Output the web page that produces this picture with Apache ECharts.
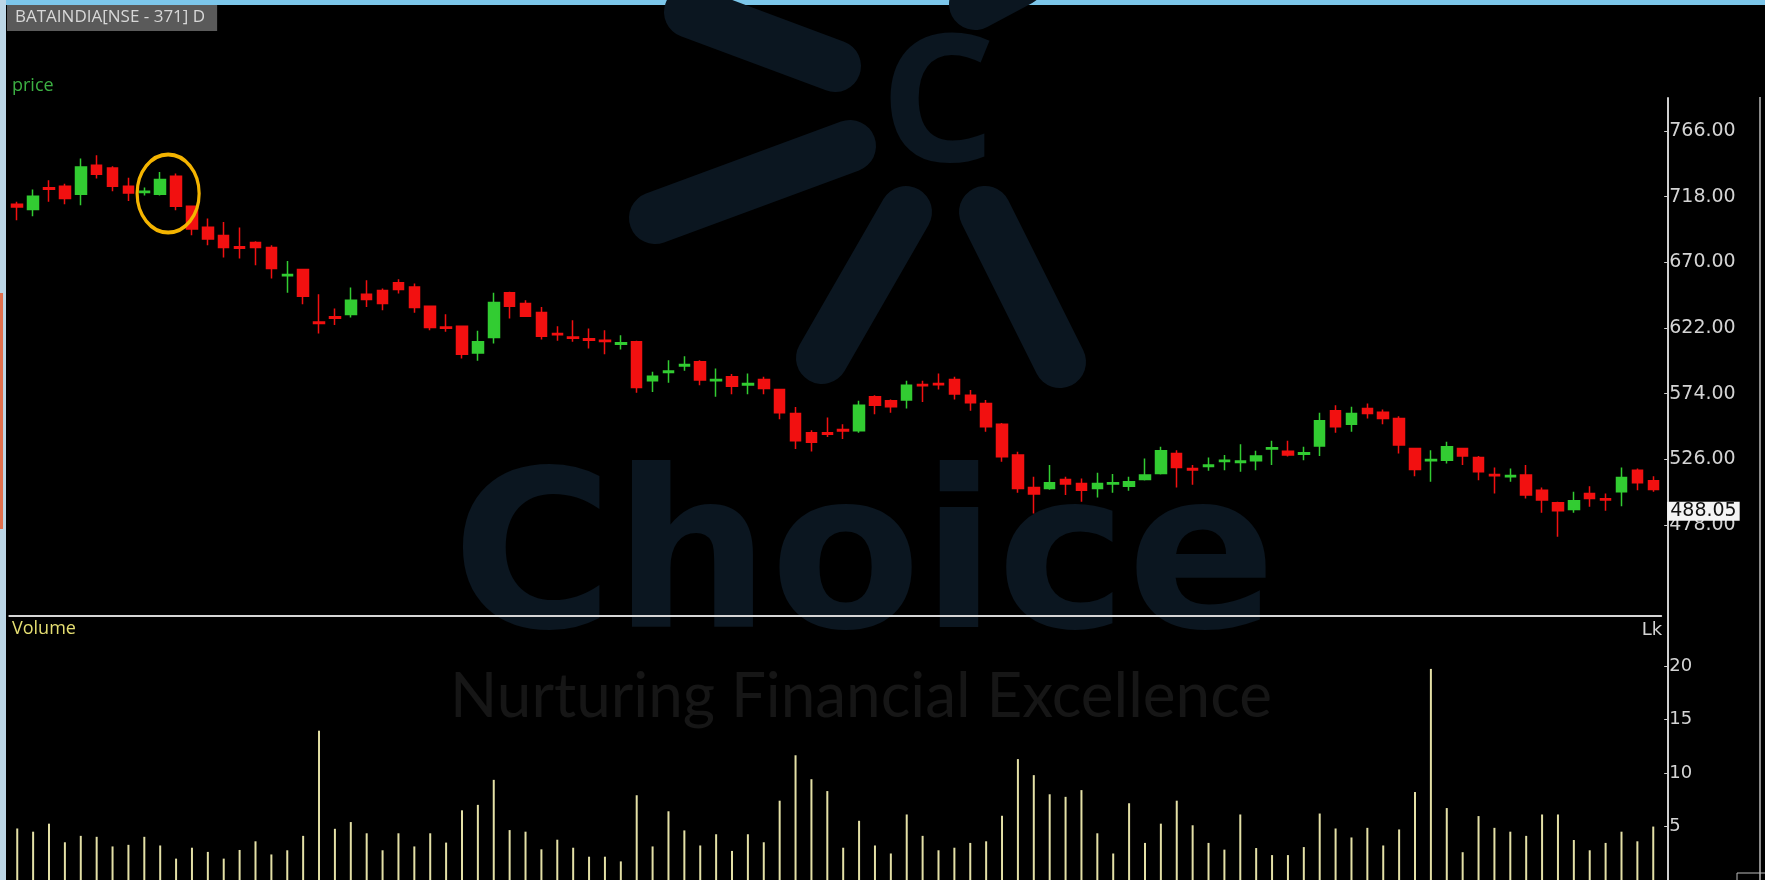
<!DOCTYPE html>
<html>
<head>
<meta charset="utf-8">
<title>BATAINDIA</title>
<script src="https://cdn.jsdelivr.net/npm/echarts@6/dist/echarts.min.js"></script>
<style>
  html, body { margin: 0; padding: 0; background: #000; }
  #chart { width: 1765px; height: 880px; }
</style>
</head>
<body>
<div id="chart"></div>
<script>
// daily candles (oldest first)
const open = [712.4, 708.6, 724.5, 725.6, 719.8, 740.9, 739.0, 725.6, 721.0, 719.8,
  732.9, 711.0, 695.7, 689.6, 681.3, 684.4, 680.8, 660.1, 664.7, 626.3,
  630.2, 631.8, 646.7, 649.4, 655.0, 652.0, 637.9, 622.8, 623.3, 603.8,
  615.0, 647.7, 639.9, 633.3, 618.0, 615.5, 614.1, 613.1, 610.2, 611.9,
  583.4, 589.5, 594.3, 597.3, 583.4, 586.3, 580.4, 584.4, 577.1, 559.5,
  545.4, 545.4, 547.8, 546.9, 571.7, 568.8, 569.3, 580.7, 581.5, 584.4,
  572.9, 566.8, 551.7, 529.1, 505.5, 504.7, 511.3, 508.4, 504.7, 507.9,
  506.4, 511.3, 515.7, 530.3, 519.3, 520.8, 524.4, 523.7, 524.9, 533.5,
  532.0, 529.8, 535.7, 561.5, 551.7, 563.2, 560.5, 555.9, 534.0, 524.9,
  525.4, 534.0, 527.4, 515.0, 513.2, 514.5, 503.5, 494.3, 489.4, 501.1,
  497.2, 502.3, 518.1, 510.3];
const close = [710.5, 718.3, 723.4, 716.6, 739.7, 734.4, 725.6, 720.7, 722.0, 730.5,
  711.0, 694.4, 687.1, 680.8, 680.3, 680.8, 665.5, 661.1, 645.2, 625.3,
  629.2, 642.3, 642.8, 639.9, 650.1, 637.0, 622.3, 621.8, 602.9, 611.9,
  640.6, 637.9, 630.6, 616.0, 617.0, 614.5, 613.1, 612.1, 611.2, 578.5,
  586.8, 590.5, 595.3, 583.9, 584.4, 579.5, 581.4, 577.8, 560.0, 539.6,
  538.5, 544.4, 546.8, 565.6, 565.6, 564.4, 580.2, 579.7, 580.5, 573.7,
  567.3, 549.8, 527.9, 504.7, 500.6, 508.9, 507.9, 503.5, 508.4, 508.9,
  509.6, 514.5, 532.2, 520.1, 518.3, 521.8, 525.4, 524.7, 528.4, 534.5,
  529.1, 530.8, 554.2, 549.8, 559.5, 559.5, 555.9, 536.4, 518.6, 525.9,
  535.2, 528.4, 516.9, 514.0, 514.2, 499.9, 496.2, 488.4, 495.7, 497.4,
  496.2, 512.8, 508.9, 504.0];
const low = [700.8, 703.7, 714.2, 712.5, 711.7, 731.2, 722.0, 714.9, 718.8, 718.8,
  708.1, 689.8, 682.5, 673.5, 672.8, 667.9, 658.1, 647.7, 639.4, 618.0,
  624.1, 629.7, 637.4, 635.0, 647.2, 633.1, 620.4, 619.2, 599.7, 598.0,
  610.7, 628.9, 630.0, 613.6, 612.6, 611.9, 607.0, 602.9, 606.3, 574.6,
  575.3, 581.9, 590.7, 580.2, 571.7, 573.6, 573.6, 573.6, 555.3, 533.6,
  531.8, 542.3, 540.9, 545.5, 559.0, 560.0, 563.2, 568.0, 577.0, 569.8,
  561.5, 546.1, 524.2, 501.6, 486.5, 503.8, 499.9, 495.0, 498.2, 501.6,
  503.0, 510.5, 515.0, 505.5, 507.5, 517.6, 518.1, 516.9, 518.1, 521.8,
  528.0, 525.4, 528.4, 545.4, 546.1, 555.9, 551.7, 530.3, 513.7, 509.6,
  523.0, 521.8, 510.8, 501.1, 509.6, 497.4, 487.0, 469.4, 487.0, 491.3,
  488.4, 491.8, 503.5, 502.3];
const high = [714.2, 723.2, 730.0, 727.5, 745.8, 748.2, 740.2, 731.9, 724.6, 736.1,
  734.9, 711.6, 702.0, 699.5, 695.4, 685.4, 682.5, 671.0, 665.2, 646.7,
  636.2, 651.6, 656.9, 650.8, 657.7, 654.5, 638.5, 632.1, 623.8, 619.9,
  647.7, 648.4, 642.3, 637.4, 623.3, 627.7, 621.6, 620.4, 616.7, 612.6,
  590.0, 598.5, 601.4, 598.5, 592.4, 588.3, 588.7, 586.3, 577.6, 564.2,
  547.3, 556.6, 551.6, 568.8, 572.9, 569.8, 583.4, 583.4, 588.7, 586.3,
  576.6, 569.3, 552.5, 531.5, 513.3, 521.8, 513.3, 512.0, 516.2, 515.2,
  513.3, 526.7, 535.2, 532.7, 521.8, 527.4, 529.1, 537.1, 532.2, 539.6,
  539.6, 535.2, 560.0, 565.6, 564.4, 566.8, 562.4, 557.5, 534.5, 532.7,
  538.8, 534.5, 528.4, 520.1, 519.3, 521.8, 505.5, 495.0, 502.3, 506.4,
  501.1, 520.1, 519.3, 513.7];
// volume in lakh shares
const volume = [4.82, 4.52, 5.27, 3.53, 4.13, 4.04, 3.14, 3.29, 4.04, 3.23,
  2.0, 3.02, 2.63, 2.0, 2.81, 3.62, 2.39, 2.78, 4.13, 13.97,
  4.79, 5.42, 4.37, 2.78, 4.37, 3.14, 4.37, 3.5, 6.52, 7.03,
  9.37, 4.67, 4.52, 2.87, 3.77, 3.02, 2.18, 2.18, 1.74, 7.93,
  3.14, 6.43, 4.64, 3.23, 4.28, 2.72, 4.28, 3.53, 7.42, 11.67,
  9.43, 8.32, 3.02, 5.54, 3.23, 2.48, 6.13, 4.13, 2.78, 3.02,
  3.47, 3.62, 6.01, 11.31, 9.81, 8.02, 7.78, 8.41, 4.37, 2.48,
  7.18, 3.47, 5.27, 7.42, 5.12, 3.47, 2.84, 6.13, 2.99, 2.33,
  2.33, 3.08, 6.22, 4.82, 3.98, 4.88, 3.23, 4.73, 8.23, 19.75,
  6.73, 2.6, 5.98, 4.88, 4.52, 4.13, 6.13, 6.13, 3.74, 2.78,
  3.47, 4.52, 3.62, 5.0];
const priceTicks = [478, 526, 574, 622, 670, 718, 766];
const volumeTicks = [5, 10, 15, 20];
const lastPrice = 488.05;

const days = open.map((_, i) => 'D' + (i + 1));
const candles = open.map((o, i) => [o, close[i], low[i], high[i]]);

const upColor = '#32cc32';
const downColor = '#f21010';
const axisColor = '#cfcfcf';
const markColor = '#0b1620';

const chart = echarts.init(document.getElementById('chart'));

const option = {
  backgroundColor: '#000',
  animation: false,
  title: [
    {
      text: 'BATAINDIA[NSE - 371] D',
      left: 7, top: 5,
      padding: [4, 12, 5, 8],
      backgroundColor: '#5a5a5a',
      textStyle: { color: '#d8d8d8', fontFamily: 'Open Sans', fontSize: 17, fontWeight: 'normal' }
    },
    {
      text: 'price',
      left: 8, top: 77, padding: [0, 4],
      textStyle: { color: '#3cb043', fontFamily: 'Open Sans', fontSize: 18, fontWeight: 'normal' }
    },
    {
      text: 'Volume',
      left: 8, top: 620, padding: [0, 4],
      textStyle: { color: '#e6df72', fontFamily: 'Open Sans', fontSize: 18, fontWeight: 'normal' }
    }
  ],
  grid: [
    { left: 9.3, right: 103.8, top: 98, bottom: 264 },
    { left: 9.3, right: 103.8, top: 616, bottom: -11 }
  ],
  xAxis: [
    {
      type: 'category', data: days, gridIndex: 0, boundaryGap: true,
      axisLine: { show: true, onZero: false, lineStyle: { color: '#d6d6d6', width: 2 } },
      axisTick: { show: false }, axisLabel: { show: false }, splitLine: { show: false }
    },
    {
      type: 'category', data: days, gridIndex: 1, boundaryGap: true, show: false
    }
  ],
  yAxis: [
    {
      type: 'value', gridIndex: 0, position: 'right', offset: 7,
      min: 411.5, max: 790.1, scale: true,
      axisLine: { show: true, lineStyle: { color: axisColor, width: 2 } },
      axisTick: { show: true, inside: true, length: 4, customValues: priceTicks, lineStyle: { color: axisColor } },
      axisLabel: {
        customValues: priceTicks, margin: 1, color: '#d4d4d4',
        fontFamily: 'DejaVu Sans', fontSize: 19,
        formatter: v => v.toFixed(2)
      },
      splitLine: { show: false }
    },
    {
      type: 'value', gridIndex: 1, position: 'right', offset: 7,
      min: 0, max: 24.7,
      name: 'Lk', nameLocation: 'end', nameGap: -14,
      nameTextStyle: { color: '#d4d4d4', fontFamily: 'DejaVu Sans', fontSize: 18, align: 'right', verticalAlign: 'middle', padding: [0, 6, 0, 0] },
      axisLine: { show: true, lineStyle: { color: axisColor, width: 2 } },
      axisTick: { show: true, inside: true, length: 4, customValues: volumeTicks, lineStyle: { color: axisColor } },
      axisLabel: {
        customValues: volumeTicks, margin: 1, color: '#d4d4d4',
        fontFamily: 'DejaVu Sans', fontSize: 18
      },
      splitLine: { show: false }
    }
  ],
  graphic: {
    elements: [
      // window frame
      { type: 'rect', z: 0, shape: { x: 0, y: 0, width: 1765, height: 5 }, style: { fill: '#7cc6ea' } },
      { type: 'rect', z: 0, shape: { x: 0, y: 0, width: 6, height: 880 }, style: { fill: '#bcd6e6' } },
      { type: 'rect', z: 0, shape: { x: 0, y: 293, width: 3, height: 236 }, style: { fill: '#e2704e' } },
      { type: 'line', z: 0, shape: { x1: 1760, y1: 97, x2: 1760, y2: 880 }, style: { stroke: '#8a8a8a', lineWidth: 2 } },
      { type: 'rect', z: 0, shape: { x: 1737, y: 873, width: 30, height: 12 }, style: { fill: null, stroke: '#bbbbbb', lineWidth: 1 } },
      // watermark
      { type: 'line', z: 0, shape: { x1: 690, y1: 12, x2: 835, y2: 66 }, style: { stroke: markColor, lineWidth: 52, lineCap: 'round' } },
      { type: 'line', z: 0, shape: { x1: 975, y1: 4, x2: 1020, y2: -20 }, style: { stroke: markColor, lineWidth: 52, lineCap: 'round' } },
      { type: 'line', z: 0, shape: { x1: 655, y1: 218, x2: 850, y2: 146 }, style: { stroke: markColor, lineWidth: 52, lineCap: 'round' } },
      { type: 'line', z: 0, shape: { x1: 906, y1: 212, x2: 822, y2: 358 }, style: { stroke: markColor, lineWidth: 52, lineCap: 'round' } },
      { type: 'line', z: 0, shape: { x1: 985, y1: 212, x2: 1060, y2: 362 }, style: { stroke: markColor, lineWidth: 52, lineCap: 'round' } },
      { type: 'text', z: 0, x: 938, y: 110, style: { text: 'C', fill: markColor, font: 'bold 178px "Noto Sans"', align: 'center', verticalAlign: 'middle' } },
      { type: 'text', z: 0, x: 452, y: 570, style: { text: 'Choice', fill: markColor, font: 'bold 220px "DejaVu Sans"', align: 'left', verticalAlign: 'middle' } },
      { type: 'text', z: 0, x: 861, y: 697, style: { text: 'Nurturing Financial Excellence', fill: '#161616', font: '62px Lato', align: 'center', verticalAlign: 'middle' } }
    ]
  },
  series: [
    {
      name: 'price', type: 'candlestick', xAxisIndex: 0, yAxisIndex: 0, z: 5,
      data: candles, barWidth: 11,
      itemStyle: {
        color: upColor, color0: downColor,
        borderColor: upColor, borderColor0: downColor, borderWidth: 1.5
      },
      markLine: {
        silent: true, symbol: 'none',
        lineStyle: { color: 'transparent', width: 0 },
        data: [{ yAxis: lastPrice }],
        label: {
          show: true, position: 'end', distance: 6,
          formatter: lastPrice.toFixed(2),
          backgroundColor: '#f4f4f4', color: '#111',
          fontFamily: 'DejaVu Sans', fontSize: 19, padding: [0, 3]
        }
      }
    },
    {
      name: 'Volume', type: 'bar', xAxisIndex: 1, yAxisIndex: 1, z: 5,
      data: volume, barWidth: 2,
      itemStyle: { color: '#e4e0a6' }
    }
  ]
};

chart.setOption(option);

// highlight ring around the two candles at index 9 and 10
const p9 = chart.convertToPixel({ gridIndex: 0 }, [9, 720.3]);
const p10 = chart.convertToPixel({ gridIndex: 0 }, [10, 720.3]);
chart.setOption({
  graphic: {
    elements: [{
      id: 'ring', type: 'circle', z: 10,
      x: (p9[0] + p10[0]) / 2, y: p9[1],
      scaleX: 31 / 39,
      shape: { cx: 0, cy: 0, r: 39 },
      style: { fill: null, stroke: '#f4b400', lineWidth: 4, strokeNoScale: true }
    }]
  }
});
</script>
</body>
</html>
